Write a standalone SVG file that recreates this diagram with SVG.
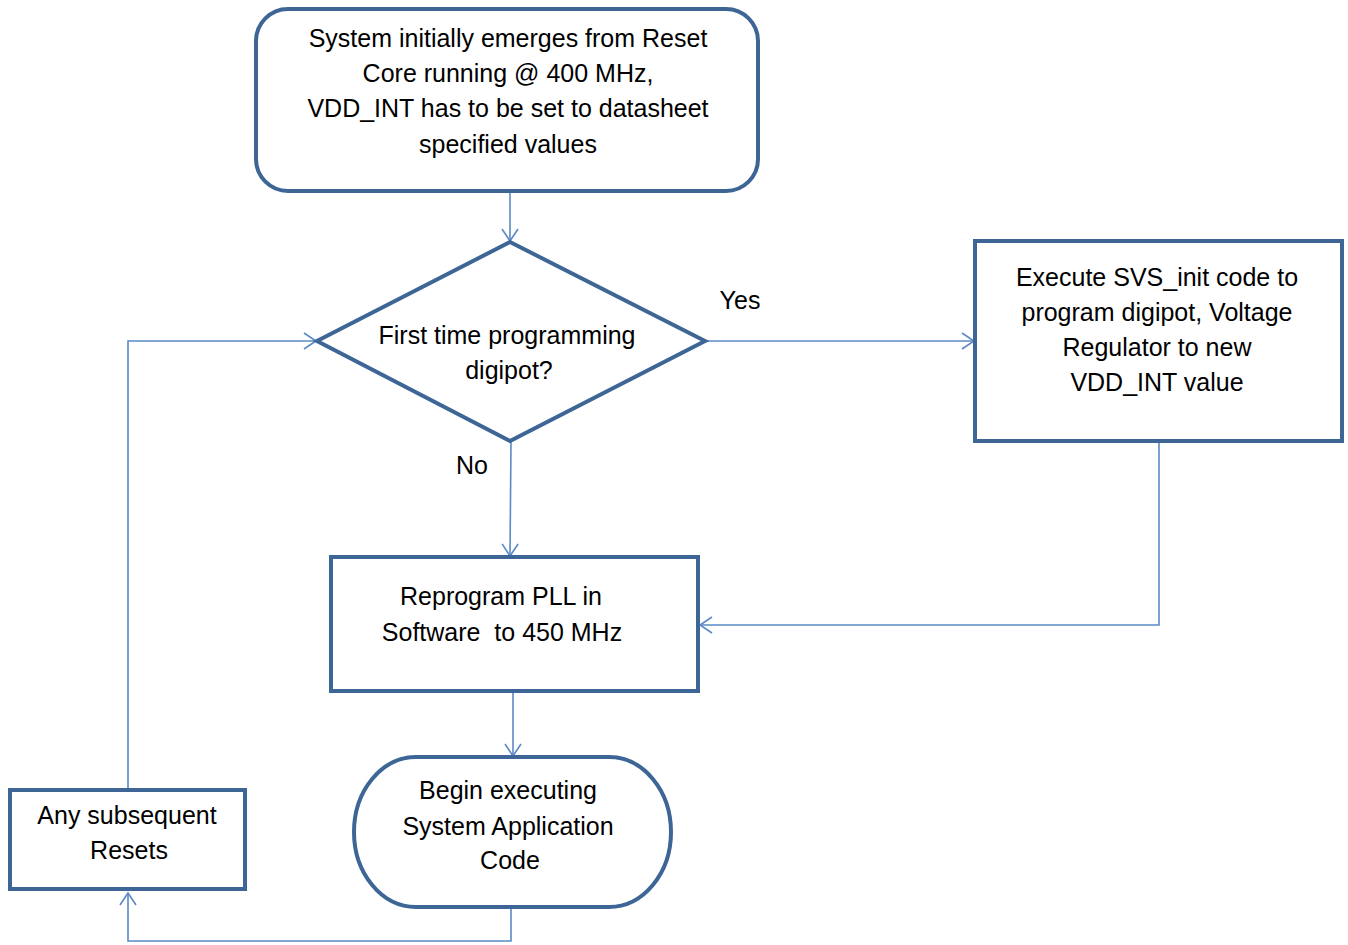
<svg xmlns="http://www.w3.org/2000/svg" width="1348" height="945" viewBox="0 0 1348 945">
<style>
.node{fill:#fff;stroke:#3d6696;stroke-width:4}
.t{font-family:"Liberation Sans",Arial,sans-serif;font-size:25px;fill:#000;text-anchor:middle;white-space:pre}
.c{fill:none;stroke:#5b8ac6;stroke-width:1.6}
</style>
<defs>
<marker id="ar" markerUnits="userSpaceOnUse" markerWidth="16" markerHeight="20" refX="13" refY="10" orient="auto">
<path d="M1,2 L13,10 L1,18" fill="none" stroke="#5b8ac6" stroke-width="1.6"/>
</marker>
</defs>
<rect width="1348" height="945" fill="#fff"/>
<g id="connectors">
<path class="c" d="M510,192 L510,241" marker-end="url(#ar)"/>
<path class="c" d="M705,341 L974,341" marker-end="url(#ar)"/>
<path class="c" d="M511,442 L510,556" marker-end="url(#ar)"/>
<path class="c" d="M1159,443 L1159,625 L700,625" marker-end="url(#ar)"/>
<path class="c" d="M513,692 L513,756" marker-end="url(#ar)"/>
<path class="c" d="M511,909 L511,941 L128,941 L128,893" marker-end="url(#ar)"/>
<path class="c" d="M128,788 L128,341 L316,341" marker-end="url(#ar)"/>
</g>
<g id="start">
<rect class="node" x="256" y="9" width="502" height="182" rx="32"/>
<text class="t" x="508" y="47">System initially emerges from Reset</text>
<text class="t" x="508" y="82">Core running @ 400 MHz,</text>
<text class="t" x="508" y="117">VDD_INT has to be set to datasheet</text>
<text class="t" x="508" y="153">specified values</text>
</g>
<g id="decision">
<polygon class="node" points="510,242 705,341 510,441 317,341"/>
<text class="t" x="507" y="344">First time programming</text>
<text class="t" x="509" y="379">digipot?</text>
</g>
<g id="svs">
<rect class="node" x="975" y="241" width="367" height="200"/>
<text class="t" x="1157" y="286">Execute SVS_init code to</text>
<text class="t" x="1157" y="321">program digipot, Voltage</text>
<text class="t" x="1157" y="356">Regulator to new</text>
<text class="t" x="1157" y="391">VDD_INT value</text>
</g>
<g id="pll">
<rect class="node" x="331" y="557" width="367" height="134"/>
<text class="t" x="501" y="605">Reprogram PLL in</text>
<text class="t" x="502" y="641">Software  to 450 MHz</text>
</g>
<g id="begin">
<rect class="node" x="354" y="757" width="317" height="150" rx="62" ry="75"/>
<text class="t" x="508" y="799">Begin executing</text>
<text class="t" x="508" y="835">System Application</text>
<text class="t" x="510" y="869">Code</text>
</g>
<g id="resets">
<rect class="node" x="10" y="790" width="235" height="99"/>
<text class="t" x="127" y="824">Any subsequent</text>
<text class="t" x="129" y="859">Resets</text>
</g>
<g id="labels">
<text class="t" x="740" y="309">Yes</text>
<text class="t" x="472" y="474">No</text>
</g>
</svg>
